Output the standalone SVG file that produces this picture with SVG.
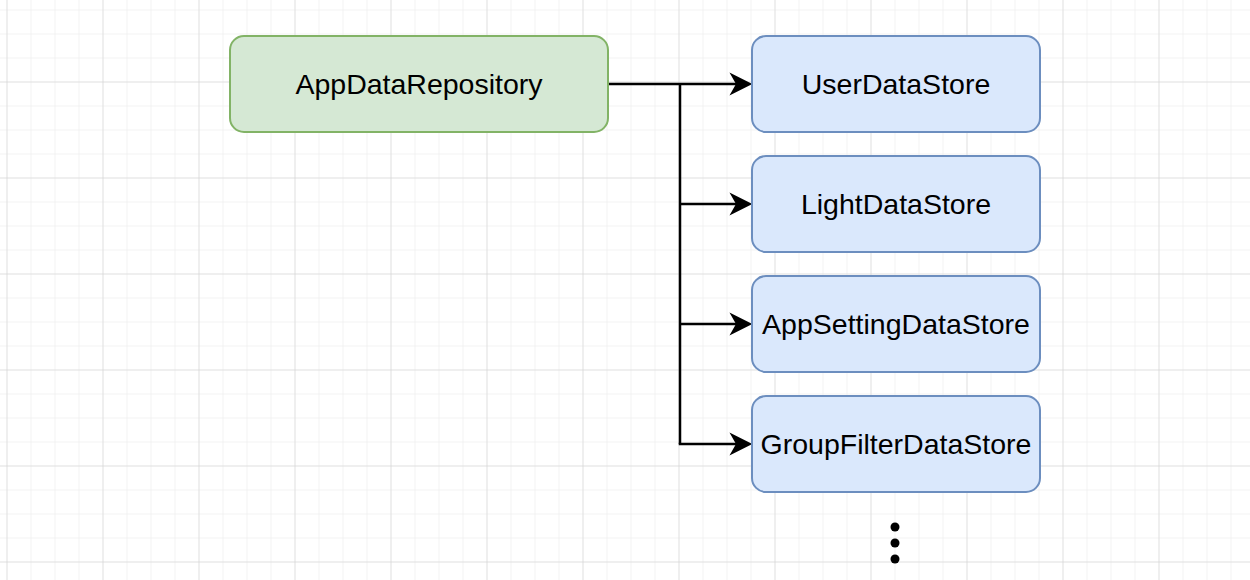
<svg xmlns="http://www.w3.org/2000/svg" width="1250" height="580" viewBox="0 0 1250 580">
  <style>
    .lbl { font-family: "Liberation Sans", Arial, Helvetica, sans-serif; font-size: 28.5px; fill: #000000; text-anchor: middle; }
    .green { fill: #d5e8d4; stroke: #82b366; stroke-width: 2; }
    .blue { fill: #dae8fc; stroke: #6c8ebf; stroke-width: 2; }
    .edge { fill: none; stroke: #000000; stroke-width: 2.5; }
  </style>
  <defs>
    <pattern id="minor" patternUnits="userSpaceOnUse" x="6.5" y="9.5" width="24" height="24">
      <path d="M0 0 H24 M0 0 V24" stroke="#efefef" stroke-width="1.5" fill="none"/>
    </pattern>
    <pattern id="major" patternUnits="userSpaceOnUse" x="6.5" y="81.5" width="96" height="96">
      <path d="M0 0 H96 M0 0 V96" stroke="#d0d0d0" stroke-width="1" fill="none"/>
    </pattern>
    <marker id="arrow" markerUnits="userSpaceOnUse" markerWidth="24" markerHeight="24" viewBox="0 0 22 22" refX="6" refY="11" orient="auto">
      <path d="M0 0.5 L21 11 L0 21.5 L6 11 Z" fill="#000000" stroke="none"/>
    </marker>
  </defs>
  <rect width="1250" height="580" fill="#ffffff"/>
  <rect width="1250" height="580" fill="url(#minor)"/>
  <rect width="1250" height="580" fill="url(#major)"/>

  <g id="connectors">
    <path class="edge" d="M608 84 H736" marker-end="url(#arrow)"/>
    <path class="edge" d="M680 84 V444"/>
    <path class="edge" d="M680 204 H736" marker-end="url(#arrow)"/>
    <path class="edge" d="M680 324 H736" marker-end="url(#arrow)"/>
    <path class="edge" d="M678.75 444 H736" marker-end="url(#arrow)"/>
  </g>

  <g id="AppDataRepository">
    <rect class="green" x="230" y="36" width="378" height="96" rx="14" ry="14"/>
    <text class="lbl" x="419" y="93.5">AppDataRepository</text>
  </g>
  <g id="UserDataStore">
    <rect class="blue" x="752" y="36" width="288" height="96" rx="14" ry="14"/>
    <text class="lbl" x="896" y="93.5">UserDataStore</text>
  </g>
  <g id="LightDataStore">
    <rect class="blue" x="752" y="156" width="288" height="96" rx="14" ry="14"/>
    <text class="lbl" x="896" y="213.5">LightDataStore</text>
  </g>
  <g id="AppSettingDataStore">
    <rect class="blue" x="752" y="276" width="288" height="96" rx="14" ry="14"/>
    <text class="lbl" x="896" y="333.5">AppSettingDataStore</text>
  </g>
  <g id="GroupFilterDataStore">
    <rect class="blue" x="752" y="396" width="288" height="96" rx="14" ry="14"/>
    <text class="lbl" x="896" y="453.5">GroupFilterDataStore</text>
  </g>
  <g id="ellipsis">
    <circle cx="895" cy="527" r="4.5" fill="#000000"/>
    <circle cx="895" cy="543" r="4.5" fill="#000000"/>
    <circle cx="895" cy="559" r="4.5" fill="#000000"/>
  </g>
</svg>
